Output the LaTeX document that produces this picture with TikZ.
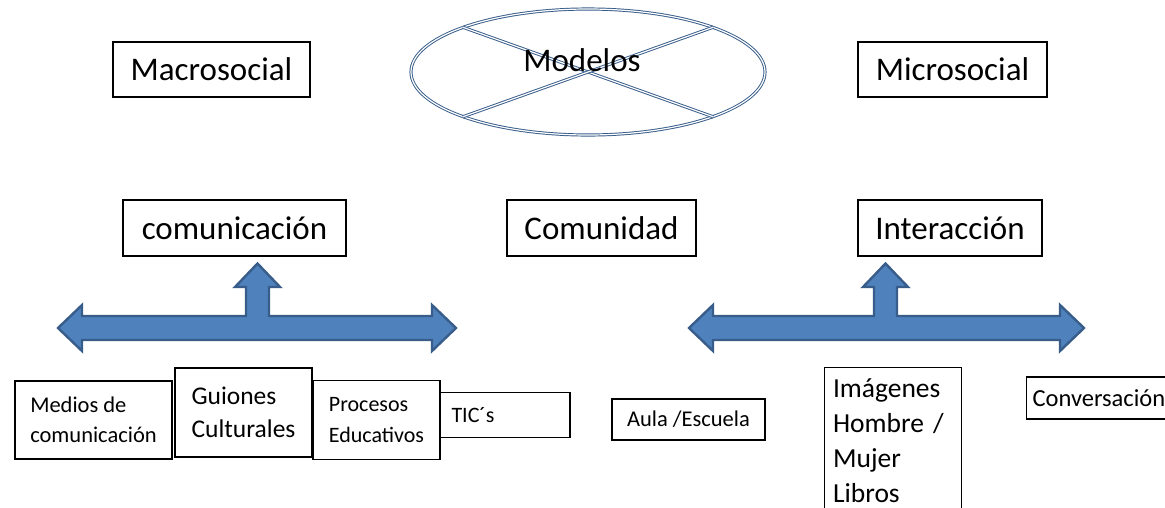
\documentclass[tikz,border=0pt]{standalone}
\usepackage{fontspec}
\setmainfont{Carlito}
\usetikzlibrary{shapes.geometric}

\definecolor{azulrelleno}{RGB}{79,129,189}
\definecolor{azulborde}{RGB}{56,93,138}

\newcommand{\tgrande}{\fontsize{33}{40}\selectfont}

\tikzset{
  caja/.style={draw, line width=1.1pt, inner sep=0pt, font=\tgrande},
  cajita/.style={draw, line width=1.1pt, inner sep=0pt, align=left},
  flecha/.style={fill=azulrelleno, draw=azulborde, line width=2.4pt},
  dobleazul/.style={draw=azulborde, double=white, double distance=1.2pt, line width=0.95pt}
}

\begin{document}
\begin{tikzpicture}[x=1pt,y=-1pt]

  \useasboundingbox (0,0) rectangle (1165,507);
  \clip (0,0) rectangle (1165,507);

  % arriba
  \node[caja, minimum width=197pt, minimum height=55pt] (macro) at (211.5,69.5) {Macrosocial};
  \node[caja, minimum width=189pt, minimum height=55pt] (micro) at (952.5,69.5) {Microsocial};

  \node[dobleazul, ellipse, minimum width=354pt, minimum height=126pt, inner sep=0pt] (modelos) at (588,72) {};
  \draw[dobleazul] (modelos.north west) -- (modelos.south east);
  \draw[dobleazul] (modelos.south west) -- (modelos.north east);
  \node[font=\tgrande, inner sep=0pt] (txtmodelos) at (582,60) {Modelos};

  % segundo nivel
  \node[caja, minimum width=223pt, minimum height=56pt] (comunicacion) at (234.5,228) {comunicación};
  \node[caja, minimum width=189pt, minimum height=56pt] (comunidad) at (601.5,228) {Comunidad};
  \node[caja, minimum width=184pt, minimum height=56pt] (interaccion) at (950,228) {Interacción};

  % flechas de tres puntas
  \foreach \iz/\ce/\de in {58/257.5/456, 689/885.5/1084}
    \draw[flecha] (\iz,328) -- (\iz+24,305) -- (\iz+24,316) -- (\ce-11.5,316)
      -- (\ce-11.5,287) -- (\ce-22.5,287) -- (\ce,263.5) -- (\ce+22.5,287)
      -- (\ce+11.5,287) -- (\ce+11.5,316) -- (\de-24,316) -- (\de-24,305)
      -- (\de,328) -- (\de-24,351) -- (\de-24,340) -- (\iz+24,340)
      -- (\iz+24,351) -- cycle;

  % cajas de abajo
  \node[cajita, minimum width=157pt, minimum height=78pt, font=\fontsize{22.5}{30}\selectfont] (medios) at (93.5,420) {Medios de\\comunicación};
  \node[cajita, minimum width=137pt, minimum height=89pt, font=\fontsize{25.5}{33}\selectfont] (guiones) at (243.5,412.5) {Guiones\\Culturales};
  \node[cajita, minimum width=127pt, minimum height=78.5pt, font=\fontsize{22}{31}\selectfont] (procesos) at (376.5,420) {Procesos\\Educativos};
  \node[cajita, text width=107pt, inner xsep=11.5pt, minimum height=45.5pt, font=\fontsize{22}{27}\selectfont] (tics) at (505,415) {TIC´s};

  \node[cajita, minimum width=153pt, minimum height=41pt, font=\fontsize{22.5}{27}\selectfont] (aula) at (688.5,419.5) {Aula /Escuela};
  \node[cajita, anchor=north west, text width=120pt, inner xsep=8.5pt, minimum height=147pt, font=\fontsize{27.5}{35}\selectfont] (imagenes) at (824,367) {Imágenes\\Hombre /\\Mujer\\Libros};
  \node[cajita, anchor=west, text width=160pt, inner xsep=6pt, minimum height=42pt, font=\fontsize{24.5}{29}\selectfont] (conversacion) at (1026,398) {Conversación};

\end{tikzpicture}
\end{document}
